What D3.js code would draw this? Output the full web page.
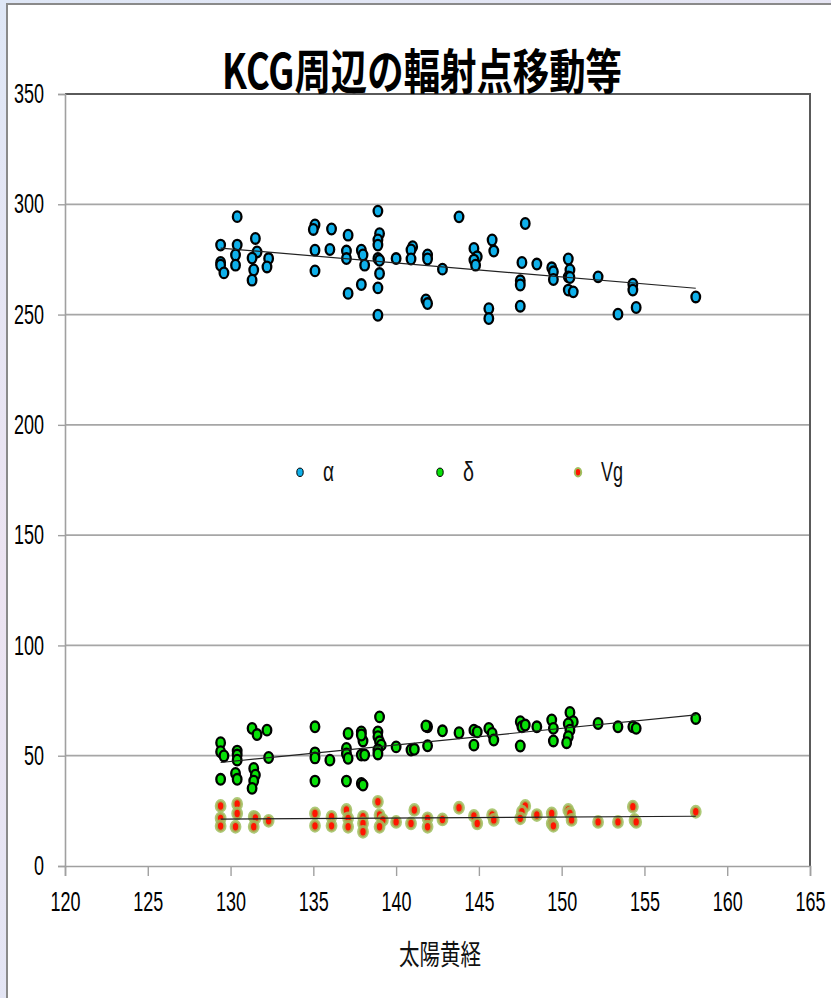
<!DOCTYPE html>
<html>
<head>
<meta charset="utf-8">
<script src="https://cdn.jsdelivr.net/npm/d3@7"></script>
<style>
    html, body { margin: 0; padding: 0; }
    body { width: 831px; height: 998px; overflow: hidden;
        background: linear-gradient(160deg, #dfe7f6 0%, #ece3f1 45%, #dde6f6 100%); }
    #chart { position: absolute; left: 0; top: 0; }
    text { font-family: "Liberation Sans Narrow", "Liberation Sans", sans-serif; }
    .jp { font-family: "Noto Sans CJK JP", sans-serif; }
</style>
</head>
<body>
<div id="chart"></div>
<script>
// [太陽黄経, value]
let alphaPoints = [
    [130.4,294.4],[129.4,281.5],[129.4,273.6],[129.4,272.4],[129.6,268.9],[130.4,281.5],[130.3,277],
    [130.3,272.4],[131.5,284.5],[131.6,278.4],[131.3,275.6],[131.4,270.2],[131.3,265.6],[132.3,275.4],
    [132.2,271.6],[135.1,290.6],[135.0,288.6],[135.1,279.2],[135.1,269.8],[136.1,288.8],[136.0,279.5],
    [137.1,286],[137.0,278.8],[137.0,275.4],[137.1,259.6],[137.9,279.2],[138.0,277],[138.1,272.4],
    [137.9,263.6],[138.9,296.9],[139.0,286.7],[138.9,283.8],[138.9,281.5],[138.9,275.4],[139.0,274.6],
    [139.0,268.6],[138.9,262.1],[138.9,249.7],[140.0,275.4],[141.0,280.8],[140.9,279.3],[140.9,275.2],
    [141.9,277],[141.9,275.2],[141.8,256.6],[141.9,255],[142.8,270.6],[143.8,294.3],[144.7,280.0],
    [144.9,276.2],[144.7,274.7],[144.8,272.4],[145.8,283.8],[145.9,278.8],[145.6,252.7],[145.6,248.2],
    [147.8,291.3],[147.6,273.6],[147.5,265.3],[147.5,263.4],[147.5,253.8],[148.5,272.9],[149.4,271.2],
    [149.5,269.4],[149.5,265.9],[150.4,275.2],[150.5,270.2],[150.4,267.1],[150.5,266.8],[150.4,261.1],
    [150.7,260.3],[152.2,267.1],[153.4,250.2],[154.3,263.8],[154.3,261.1],[154.5,253.2],[158.1,258.0]
];
let deltaPoints = [
    [129.4,55.9],[129.4,51.8],[129.6,49.9],[129.4,39.3],[130.4,52.1],[130.4,50.3],[130.4,48.0],
    [130.3,42],[130.4,39.3],[131.3,62.4],[131.6,59.6],[132.2,61.6],[132.3,49.2],[131.4,44.2],
    [131.5,41.2],[131.4,38.5],[131.3,35.2],[135.1,63.1],[135.1,51.3],[135.1,49.0],[135.1,38.5],
    [136.0,48.0],[137.1,60.1],[137.0,53.3],[137.0,50.8],[137.1,48.8],[137.0,38.5],[137.9,60.8],
    [138.0,56.7],[137.9,59.4],[137.9,50.3],[138.1,50.3],[137.9,37.4],[138.0,36.7],[139.0,67.6],
    [138.9,60.8],[138.9,58.6],[139.0,56.3],[139.1,54.8],[138.9,52.6],[138.9,50.8],[140.0,54.0],
    [140.9,52.6],[141.1,52.9],[141.9,63.1],[141.8,63.5],[141.9,54.5],[142.8,61.3],[143.8,60.4],
    [144.7,61.6],[144.9,60.8],[144.7,54.8],[145.6,62.4],[145.8,60.1],[145.9,57.1],[147.5,65.4],
    [147.6,63.1],[147.8,63.9],[147.5,54.4],[148.5,63.1],[149.4,66.2],[149.5,62.4],[149.5,56.7],
    [150.5,69.6],[150.7,65.4],[150.4,64.4],[150.5,61.6],[150.4,58.6],[150.3,55.9],[152.2,64.6],
    [153.4,63.1],[154.3,63.1],[154.5,62.4],[158.1,66.9]
];
let vgPoints = [
    [129.4,27.2],[129.4,21.6],[129.4,18.1],[130.4,28.1],[130.4,23.8],[130.3,17.8],[131.4,22.3],
    [131.5,21.8],[131.4,17.8],[132.3,20.5],[135.1,23.8],[135.1,18.2],[136.1,22.3],[136.1,18.2],
    [137.0,25.4],[137.1,21.6],[137.1,17.8],[138.0,22.3],[138.0,19.3],[138.0,15.5],[138.9,29.1],
    [139.0,23.1],[139.2,20.9],[139.0,17.8],[140.0,20.0],[141.1,25.4],[140.9,19.3],[141.9,21.6],
    [141.9,17.8],[142.8,21.1],[143.8,26.4],[144.7,22.7],[144.9,19.3],[145.8,23.1],[145.9,20.9],
    [147.8,27.2],[147.6,24.6],[147.5,21.6],[148.5,23.1],[149.4,23.8],[149.4,19.3],[149.5,18.2],
    [150.4,25.4],[150.5,23.8],[150.6,20.9],[152.2,20.0],[153.4,20.0],[154.3,26.9],[154.4,20.9],
    [154.5,20.0],[158.1,24.6]
];
let xTicks = [120, 125, 130, 135, 140, 145, 150, 155, 160, 165];
let yTicks = [0, 50, 100, 150, 200, 250, 300, 350];
let seriesNames = ['α', 'δ', 'Vg'];
let titleText = 'KCG周辺の輻射点移動等';
let xTitle = '太陽黄経';

let series = [
    { name: seriesNames[0], points: alphaPoints, fill: '#0fb0ea', stroke: '#000', strokeWidth: 2.3 },
    { name: seriesNames[1], points: deltaPoints, fill: '#08e008', stroke: '#000', strokeWidth: 2.3 },
    { name: seriesNames[2], points: vgPoints, fill: '#ff1500', stroke: '#9fbf5f', strokeWidth: 3.2 }
];

let margin = { top: 94, right: 21, bottom: 132, left: 65 };
let width = 831 - margin.left - margin.right;
let height = 998 - margin.top - margin.bottom;

let svg = d3.select('#chart').append('svg')
    .attr('width', 831).attr('height', 998);

// white panel with grey frame
svg.append('rect')
    .attr('x', 7).attr('y', 4).attr('width', 840).attr('height', 1010)
    .attr('fill', '#fff').attr('stroke', '#8a8a8a').attr('stroke-width', 2);

let xScale = d3.scaleLinear().domain([120, 165]).range([0, width]);
let yScale = d3.scaleLinear().domain([0, 350]).range([height, 0]);

let plot = svg.append('g').attr('transform', `translate(${margin.left},${margin.top})`);

// gridlines
plot.append('g').selectAll('line').data(yTicks.filter(d => d > 0 && d < 350))
    .join('line')
    .attr('x1', 0).attr('x2', width)
    .attr('y1', d => yScale(d)).attr('y2', d => yScale(d))
    .attr('stroke', '#a6a6a6').attr('stroke-width', 1.8);

// top / right border
plot.append('path')
    .attr('d', `M0,0H${width}V${height}`)
    .attr('fill', 'none').attr('stroke', '#5a5a5a').attr('stroke-width', 2);

let yAxis = plot.append('g').call(d3.axisLeft(yScale).tickValues(yTicks).tickSize(7).tickPadding(14));
let xAxis = plot.append('g').attr('transform', `translate(0,${height})`)
    .call(d3.axisBottom(xScale).tickValues(xTicks).tickSize(10).tickPadding(19));
for (let ax of [xAxis, yAxis]) {
    ax.select('.domain').attr('stroke', '#a0a0a0').attr('stroke-width', 1.6);
    ax.selectAll('.tick line').attr('stroke', '#a0a0a0').attr('stroke-width', 1.4);
    ax.selectAll('.tick text')
        .attr('font-family', '"Liberation Sans Narrow", "Liberation Sans", sans-serif')
        .attr('font-size', 27).attr('fill', '#000')
        .attr('textLength', d => String(d).length * 10)
        .attr('lengthAdjust', 'spacingAndGlyphs');
}
xAxis.selectAll('.tick text').attr('dy', '0.6em');

// markers
for (let s of series) {
    plot.append('g').selectAll('ellipse').data(s.points)
        .join('ellipse')
        .attr('cx', d => xScale(d[0])).attr('cy', d => yScale(d[1]))
        .attr('rx', 4.3).attr('ry', 5.3)
        .attr('fill', s.fill).attr('stroke', s.stroke)
        .attr('stroke-width', s.strokeWidth)
        .attr('stroke-opacity', s.name === 'Vg' ? 0.85 : 1);
}

// linear trendlines (least squares)
for (let s of series) {
    let xs = s.points.map(d => d[0]), ys = s.points.map(d => d[1]);
    let mx = d3.mean(xs), my = d3.mean(ys);
    let slope = d3.sum(s.points, d => (d[0] - mx) * (d[1] - my)) / d3.sum(xs, x => (x - mx) * (x - mx));
    let ends = d3.extent(xs).map(x => [x, my + slope * (x - mx)]);
    plot.append('path')
        .attr('d', d3.line().x(d => xScale(d[0])).y(d => yScale(d[1]))(ends))
        .attr('fill', 'none').attr('stroke', '#222').attr('stroke-width', 1.2);
}

// legend
let legendX = [235, 375, 513];
let legend = plot.append('g').attr('transform', `translate(0,${yScale(178.5)})`);
series.forEach((s, i) => {
    legend.append('ellipse')
        .attr('cx', legendX[i]).attr('cy', 0).attr('rx', 3.2).attr('ry', 4.2)
        .attr('fill', s.fill).attr('stroke', s.name === 'Vg' ? s.stroke : '#000')
        .attr('stroke-width', s.name === 'Vg' ? 2 : 1);
    legend.append('text')
        .attr('x', legendX[i] + 23).attr('y', 9)
        .attr('font-size', 27).attr('fill', '#111')
        .attr('textLength', s.name.length * 11).attr('lengthAdjust', 'spacingAndGlyphs')
        .text(s.name);
});

// titles
svg.append('text').attr('class', 'jp')
    .attr('x', 422).attr('y', 89).attr('text-anchor', 'middle')
    .attr('font-size', 48).attr('font-weight', 'bold').attr('fill', '#000')
    .attr('textLength', 400).attr('lengthAdjust', 'spacingAndGlyphs')
    .text(titleText);

svg.append('text').attr('class', 'jp')
    .attr('x', 440).attr('y', 965).attr('text-anchor', 'middle')
    .attr('font-size', 28).attr('fill', '#111')
    .attr('textLength', 82).attr('lengthAdjust', 'spacingAndGlyphs')
    .text(xTitle);
</script>
</body>
</html>
